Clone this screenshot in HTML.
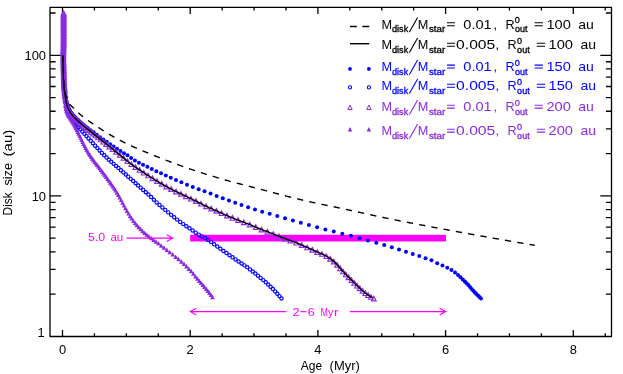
<!DOCTYPE html>
<html><head><meta charset="utf-8"><title>Disk size vs age</title>
<style>html,body{margin:0;padding:0;background:#fff}svg{display:block}svg{will-change:transform;transform:translateZ(0)}</style></head>
<body>
<svg width="623" height="374" viewBox="0 0 623 374" font-family="Liberation Sans, sans-serif">
<rect width="623" height="374" fill="#fff"/>
<g stroke="#000000" stroke-width="1.3" fill="none" stroke-linecap="butt" stroke-linejoin="round">
<rect x="50.0" y="7.4" width="561.5" height="329.1"/>
<path d="M62.50,336.5 v-6.5 M62.50,7.4 v6.5 M94.42,336.5 v-3.2 M94.42,7.4 v3.2 M126.35,336.5 v-3.2 M126.35,7.4 v3.2 M158.28,336.5 v-3.2 M158.28,7.4 v3.2 M190.20,336.5 v-6.5 M190.20,7.4 v6.5 M222.12,336.5 v-3.2 M222.12,7.4 v3.2 M254.05,336.5 v-3.2 M254.05,7.4 v3.2 M285.98,336.5 v-3.2 M285.98,7.4 v3.2 M317.90,336.5 v-6.5 M317.90,7.4 v6.5 M349.82,336.5 v-3.2 M349.82,7.4 v3.2 M381.75,336.5 v-3.2 M381.75,7.4 v3.2 M413.68,336.5 v-3.2 M413.68,7.4 v3.2 M445.60,336.5 v-6.5 M445.60,7.4 v6.5 M477.53,336.5 v-3.2 M477.53,7.4 v3.2 M509.45,336.5 v-3.2 M509.45,7.4 v3.2 M541.38,336.5 v-3.2 M541.38,7.4 v3.2 M573.30,336.5 v-6.5 M573.30,7.4 v6.5 M605.23,336.5 v-3.2 M605.23,7.4 v3.2 M50.0,294.18 h5.6 M611.5,294.18 h-5.6 M50.0,269.42 h5.6 M611.5,269.42 h-5.6 M50.0,251.85 h5.6 M611.5,251.85 h-5.6 M50.0,238.22 h5.6 M611.5,238.22 h-5.6 M50.0,227.09 h5.6 M611.5,227.09 h-5.6 M50.0,217.68 h5.6 M611.5,217.68 h-5.6 M50.0,209.53 h5.6 M611.5,209.53 h-5.6 M50.0,202.33 h5.6 M611.5,202.33 h-5.6 M50.0,153.58 h5.6 M611.5,153.58 h-5.6 M50.0,128.82 h5.6 M611.5,128.82 h-5.6 M50.0,111.25 h5.6 M611.5,111.25 h-5.6 M50.0,97.62 h5.6 M611.5,97.62 h-5.6 M50.0,86.49 h5.6 M611.5,86.49 h-5.6 M50.0,77.08 h5.6 M611.5,77.08 h-5.6 M50.0,68.93 h5.6 M611.5,68.93 h-5.6 M50.0,61.73 h5.6 M611.5,61.73 h-5.6 M50.0,12.98 h5.6 M611.5,12.98 h-5.6 M50.0,195.90 h11.2 M611.5,195.90 h-11.2 M50.0,55.30 h11.2 M611.5,55.30 h-11.2"/>
</g>
<rect x="190.2" y="234.8" width="255.8" height="6.7" fill="#ff00ff"/>
<g fill="none" stroke="#0000ff" stroke-width="1.15"><circle cx="63.10" cy="30.80" r="1.65"/><circle cx="63.11" cy="32.30" r="1.65"/><circle cx="63.11" cy="33.80" r="1.65"/><circle cx="63.12" cy="35.30" r="1.65"/><circle cx="63.13" cy="36.80" r="1.65"/><circle cx="63.14" cy="38.30" r="1.65"/><circle cx="63.14" cy="39.80" r="1.65"/><circle cx="63.15" cy="41.30" r="1.65"/><circle cx="63.16" cy="42.80" r="1.65"/><circle cx="63.17" cy="44.30" r="1.65"/><circle cx="63.18" cy="45.80" r="1.65"/><circle cx="63.19" cy="47.30" r="1.65"/><circle cx="63.21" cy="48.85" r="1.65"/><circle cx="63.22" cy="50.40" r="1.65"/><circle cx="63.23" cy="51.95" r="1.65"/><circle cx="63.24" cy="53.50" r="1.65"/><circle cx="63.26" cy="55.05" r="1.65"/><circle cx="63.27" cy="56.60" r="1.65"/><circle cx="63.28" cy="58.15" r="1.65"/><circle cx="63.30" cy="59.70" r="1.65"/><circle cx="63.31" cy="61.20" r="1.65"/><circle cx="63.32" cy="62.70" r="1.65"/><circle cx="63.34" cy="64.20" r="1.65"/><circle cx="63.35" cy="65.70" r="1.65"/><circle cx="63.36" cy="67.20" r="1.65"/><circle cx="63.37" cy="68.70" r="1.65"/><circle cx="63.39" cy="70.20" r="1.65"/><circle cx="63.40" cy="71.70" r="1.65"/><circle cx="63.42" cy="73.20" r="1.65"/><circle cx="63.44" cy="74.70" r="1.65"/><circle cx="63.46" cy="76.20" r="1.65"/><circle cx="63.48" cy="77.75" r="1.65"/><circle cx="63.50" cy="79.30" r="1.65"/><circle cx="63.53" cy="80.85" r="1.65"/><circle cx="63.56" cy="82.40" r="1.65"/><circle cx="63.60" cy="83.95" r="1.65"/><circle cx="63.65" cy="85.49" r="1.65"/><circle cx="63.74" cy="87.04" r="1.65"/><circle cx="63.85" cy="88.54" r="1.65"/><circle cx="63.98" cy="90.03" r="1.65"/><circle cx="64.13" cy="91.53" r="1.65"/><circle cx="64.28" cy="93.02" r="1.65"/><circle cx="64.44" cy="94.51" r="1.65"/><circle cx="64.61" cy="96.06" r="1.65"/><circle cx="64.76" cy="97.55" r="1.65"/><circle cx="64.93" cy="99.05" r="1.65"/><circle cx="65.47" cy="103.01" r="1.65"/><circle cx="66.05" cy="105.68" r="1.65"/><circle cx="66.67" cy="107.59" r="1.65"/><circle cx="67.33" cy="109.33" r="1.65"/><circle cx="68.04" cy="111.10" r="1.65"/><circle cx="68.79" cy="112.84" r="1.65"/><circle cx="69.59" cy="114.51" r="1.65"/><circle cx="70.46" cy="116.16" r="1.65"/><circle cx="71.36" cy="117.77" r="1.65"/><circle cx="72.33" cy="119.34" r="1.65"/><circle cx="73.36" cy="120.87" r="1.65"/><circle cx="74.49" cy="122.41" r="1.65"/><circle cx="75.67" cy="123.96" r="1.65"/><circle cx="76.99" cy="125.59" r="1.65"/><circle cx="78.53" cy="127.36" r="1.65"/><circle cx="80.32" cy="129.33" r="1.65"/><circle cx="82.33" cy="131.56" r="1.65"/><circle cx="84.37" cy="133.82" r="1.65"/><circle cx="86.46" cy="136.11" r="1.65"/><circle cx="88.59" cy="138.44" r="1.65"/><circle cx="90.74" cy="140.81" r="1.65"/><circle cx="92.92" cy="143.22" r="1.65"/><circle cx="95.13" cy="145.67" r="1.65"/><circle cx="97.36" cy="148.10" r="1.65"/><circle cx="99.62" cy="150.50" r="1.65"/><circle cx="101.93" cy="152.93" r="1.65"/><circle cx="104.24" cy="155.29" r="1.65"/><circle cx="106.57" cy="157.55" r="1.65"/><circle cx="108.93" cy="159.71" r="1.65"/><circle cx="111.29" cy="161.80" r="1.65"/><circle cx="113.67" cy="163.86" r="1.65"/><circle cx="116.08" cy="165.97" r="1.65"/><circle cx="118.48" cy="168.09" r="1.65"/><circle cx="120.92" cy="170.24" r="1.65"/><circle cx="123.35" cy="172.39" r="1.65"/><circle cx="125.79" cy="174.54" r="1.65"/><circle cx="128.23" cy="176.69" r="1.65"/><circle cx="130.71" cy="178.87" r="1.65"/><circle cx="133.18" cy="181.05" r="1.65"/><circle cx="135.65" cy="183.24" r="1.65"/><circle cx="138.16" cy="185.46" r="1.65"/><circle cx="140.67" cy="187.68" r="1.65"/><circle cx="143.21" cy="189.94" r="1.65"/><circle cx="145.80" cy="192.22" r="1.65"/><circle cx="148.45" cy="194.58" r="1.65"/><circle cx="151.12" cy="197.07" r="1.65"/><circle cx="153.87" cy="199.77" r="1.65"/><circle cx="156.66" cy="202.42" r="1.65"/><circle cx="159.49" cy="204.94" r="1.65"/><circle cx="162.38" cy="207.42" r="1.65"/><circle cx="165.27" cy="209.88" r="1.65"/><circle cx="168.21" cy="212.38" r="1.65"/><circle cx="171.16" cy="214.85" r="1.65"/><circle cx="174.16" cy="217.26" r="1.65"/><circle cx="177.15" cy="219.61" r="1.65"/><circle cx="180.18" cy="221.90" r="1.65"/><circle cx="183.26" cy="224.12" r="1.65"/><circle cx="186.38" cy="226.21" r="1.65"/><circle cx="189.48" cy="228.31" r="1.65"/><circle cx="192.60" cy="230.50" r="1.65"/><circle cx="195.72" cy="232.67" r="1.65"/><circle cx="198.83" cy="234.66" r="1.65"/><circle cx="201.93" cy="236.40" r="1.65"/><circle cx="205.00" cy="238.08" r="1.65"/><circle cx="208.09" cy="240.01" r="1.65"/><circle cx="211.18" cy="242.12" r="1.65"/><circle cx="214.23" cy="244.30" r="1.65"/><circle cx="217.30" cy="246.56" r="1.65"/><circle cx="220.37" cy="248.80" r="1.65"/><circle cx="223.44" cy="250.97" r="1.65"/><circle cx="226.47" cy="253.09" r="1.65"/><circle cx="229.50" cy="255.21" r="1.65"/><circle cx="232.53" cy="257.33" r="1.65"/><circle cx="235.58" cy="259.43" r="1.65"/><circle cx="238.59" cy="261.50" r="1.65"/><circle cx="241.54" cy="263.46" r="1.65"/><circle cx="244.42" cy="265.37" r="1.65"/><circle cx="247.25" cy="267.34" r="1.65"/><circle cx="250.02" cy="269.39" r="1.65"/><circle cx="252.72" cy="271.46" r="1.65"/><circle cx="255.39" cy="273.57" r="1.65"/><circle cx="257.99" cy="275.68" r="1.65"/><circle cx="260.66" cy="277.91" r="1.65"/><circle cx="263.27" cy="280.12" r="1.65"/><circle cx="265.77" cy="282.31" r="1.65"/><circle cx="268.23" cy="284.54" r="1.65"/><circle cx="270.59" cy="286.78" r="1.65"/><circle cx="272.90" cy="289.08" r="1.65"/><circle cx="275.13" cy="291.38" r="1.65"/><circle cx="277.32" cy="293.74" r="1.65"/><circle cx="279.43" cy="296.10" r="1.65"/><circle cx="281.50" cy="298.50" r="1.65"/></g>
<g fill="#0000ff"><circle cx="63.10" cy="30.80" r="2.0"/><circle cx="63.10" cy="32.30" r="2.0"/><circle cx="63.10" cy="33.80" r="2.0"/><circle cx="63.11" cy="35.30" r="2.0"/><circle cx="63.12" cy="36.80" r="2.0"/><circle cx="63.13" cy="38.30" r="2.0"/><circle cx="63.14" cy="39.80" r="2.0"/><circle cx="63.15" cy="41.30" r="2.0"/><circle cx="63.16" cy="42.80" r="2.0"/><circle cx="63.17" cy="44.30" r="2.0"/><circle cx="63.19" cy="45.85" r="2.0"/><circle cx="63.21" cy="47.40" r="2.0"/><circle cx="63.22" cy="48.95" r="2.0"/><circle cx="63.24" cy="50.50" r="2.0"/><circle cx="63.26" cy="52.05" r="2.0"/><circle cx="63.28" cy="53.60" r="2.0"/><circle cx="63.30" cy="55.15" r="2.0"/><circle cx="63.32" cy="56.70" r="2.0"/><circle cx="63.34" cy="58.25" r="2.0"/><circle cx="63.37" cy="59.80" r="2.0"/><circle cx="63.40" cy="61.30" r="2.0"/><circle cx="63.43" cy="62.80" r="2.0"/><circle cx="63.46" cy="64.30" r="2.0"/><circle cx="63.50" cy="65.80" r="2.0"/><circle cx="63.53" cy="67.30" r="2.0"/><circle cx="63.57" cy="68.80" r="2.0"/><circle cx="63.61" cy="70.30" r="2.0"/><circle cx="63.64" cy="71.80" r="2.0"/><circle cx="63.67" cy="73.30" r="2.0"/><circle cx="63.71" cy="74.80" r="2.0"/><circle cx="63.74" cy="76.30" r="2.0"/><circle cx="63.78" cy="77.80" r="2.0"/><circle cx="63.82" cy="79.30" r="2.0"/><circle cx="63.87" cy="80.85" r="2.0"/><circle cx="63.93" cy="82.40" r="2.0"/><circle cx="64.00" cy="83.94" r="2.0"/><circle cx="64.10" cy="85.48" r="2.0"/><circle cx="64.24" cy="87.03" r="2.0"/><circle cx="64.41" cy="88.52" r="2.0"/><circle cx="64.62" cy="90.01" r="2.0"/><circle cx="64.84" cy="91.49" r="2.0"/><circle cx="65.37" cy="94.95" r="2.0"/><circle cx="65.95" cy="98.43" r="2.0"/><circle cx="66.56" cy="101.48" r="2.0"/><circle cx="67.22" cy="104.07" r="2.0"/><circle cx="67.92" cy="106.20" r="2.0"/><circle cx="68.67" cy="108.03" r="2.0"/><circle cx="69.46" cy="109.69" r="2.0"/><circle cx="70.30" cy="111.24" r="2.0"/><circle cx="71.19" cy="112.73" r="2.0"/><circle cx="72.17" cy="114.12" r="2.0"/><circle cx="73.21" cy="115.32" r="2.0"/><circle cx="74.31" cy="116.43" r="2.0"/><circle cx="75.49" cy="117.56" r="2.0"/><circle cx="76.77" cy="118.77" r="2.0"/><circle cx="78.19" cy="120.10" r="2.0"/><circle cx="79.74" cy="121.52" r="2.0"/><circle cx="81.47" cy="123.03" r="2.0"/><circle cx="83.43" cy="124.68" r="2.0"/><circle cx="85.56" cy="126.41" r="2.0"/><circle cx="87.97" cy="128.28" r="2.0"/><circle cx="90.65" cy="130.21" r="2.0"/><circle cx="93.62" cy="132.34" r="2.0"/><circle cx="96.82" cy="134.73" r="2.0"/><circle cx="100.08" cy="137.14" r="2.0"/><circle cx="103.37" cy="139.49" r="2.0"/><circle cx="106.73" cy="141.85" r="2.0"/><circle cx="110.12" cy="144.24" r="2.0"/><circle cx="113.54" cy="146.59" r="2.0"/><circle cx="116.98" cy="148.82" r="2.0"/><circle cx="120.46" cy="150.99" r="2.0"/><circle cx="123.96" cy="153.13" r="2.0"/><circle cx="127.48" cy="155.32" r="2.0"/><circle cx="131.11" cy="157.91" r="2.0"/><circle cx="134.92" cy="160.47" r="2.0"/><circle cx="138.92" cy="162.64" r="2.0"/><circle cx="143.07" cy="164.74" r="2.0"/><circle cx="147.38" cy="166.86" r="2.0"/><circle cx="151.79" cy="168.99" r="2.0"/><circle cx="156.35" cy="171.16" r="2.0"/><circle cx="161.02" cy="173.35" r="2.0"/><circle cx="165.81" cy="175.61" r="2.0"/><circle cx="170.77" cy="177.87" r="2.0"/><circle cx="175.97" cy="180.08" r="2.0"/><circle cx="181.38" cy="182.31" r="2.0"/><circle cx="187.00" cy="184.67" r="2.0"/><circle cx="192.75" cy="187.00" r="2.0"/><circle cx="198.62" cy="189.15" r="2.0"/><circle cx="204.54" cy="191.29" r="2.0"/><circle cx="210.56" cy="193.60" r="2.0"/><circle cx="216.63" cy="195.94" r="2.0"/><circle cx="222.76" cy="198.23" r="2.0"/><circle cx="228.96" cy="200.51" r="2.0"/><circle cx="235.21" cy="202.77" r="2.0"/><circle cx="241.52" cy="205.03" r="2.0"/><circle cx="248.12" cy="207.37" r="2.0"/><circle cx="254.99" cy="209.51" r="2.0"/><circle cx="262.19" cy="211.63" r="2.0"/><circle cx="269.67" cy="213.81" r="2.0"/><circle cx="277.32" cy="216.01" r="2.0"/><circle cx="285.06" cy="218.21" r="2.0"/><circle cx="292.90" cy="220.44" r="2.0"/><circle cx="300.82" cy="222.74" r="2.0"/><circle cx="308.89" cy="225.07" r="2.0"/><circle cx="317.09" cy="227.32" r="2.0"/><circle cx="325.38" cy="229.40" r="2.0"/><circle cx="333.78" cy="231.47" r="2.0"/><circle cx="342.29" cy="233.72" r="2.0"/><circle cx="350.88" cy="235.82" r="2.0"/><circle cx="359.46" cy="238.22" r="2.0"/><circle cx="367.96" cy="240.46" r="2.0"/><circle cx="376.30" cy="242.78" r="2.0"/><circle cx="384.23" cy="245.06" r="2.0"/><circle cx="391.78" cy="247.21" r="2.0"/><circle cx="399.03" cy="249.47" r="2.0"/><circle cx="406.01" cy="251.77" r="2.0"/><circle cx="412.77" cy="253.96" r="2.0"/><circle cx="419.28" cy="256.09" r="2.0"/><circle cx="425.53" cy="258.35" r="2.0"/><circle cx="431.51" cy="260.34" r="2.0"/><circle cx="437.22" cy="263.13" r="2.0"/><circle cx="442.49" cy="265.42" r="2.0"/><circle cx="447.24" cy="267.66" r="2.0"/><circle cx="451.43" cy="269.99" r="2.0"/><circle cx="455.02" cy="272.54" r="2.0"/><circle cx="458.02" cy="274.88" r="2.0"/><circle cx="460.52" cy="277.24" r="2.0"/><circle cx="462.78" cy="279.58" r="2.0"/><circle cx="464.83" cy="281.57" r="2.0"/><circle cx="466.60" cy="283.27" r="2.0"/><circle cx="468.30" cy="285.01" r="2.0"/><circle cx="469.99" cy="286.98" r="2.0"/><circle cx="471.65" cy="289.04" r="2.0"/><circle cx="473.25" cy="290.87" r="2.0"/><circle cx="474.83" cy="292.49" r="2.0"/><circle cx="476.41" cy="294.03" r="2.0"/><circle cx="477.95" cy="295.55" r="2.0"/><circle cx="479.47" cy="297.07" r="2.0"/><circle cx="481.00" cy="298.60" r="2.0"/></g>
<path fill="#8a2be2" d="M60.50,15.55 L62.80,11.05 L65.10,15.55Z M60.50,17.05 L62.80,12.55 L65.10,17.05Z M60.51,18.55 L62.81,14.05 L65.11,18.55Z M60.51,20.05 L62.81,15.55 L65.11,20.05Z M60.52,21.55 L62.82,17.05 L65.12,21.55Z M60.52,23.05 L62.82,18.55 L65.12,23.05Z M60.53,24.55 L62.83,20.05 L65.13,24.55Z M60.53,26.05 L62.83,21.55 L65.13,26.05Z M60.54,27.55 L62.84,23.05 L65.14,27.55Z M60.54,29.05 L62.84,24.55 L65.14,29.05Z M60.55,30.55 L62.85,26.05 L65.15,30.55Z M60.55,32.10 L62.85,27.60 L65.15,32.10Z M60.56,33.65 L62.86,29.15 L65.16,33.65Z M60.57,35.20 L62.87,30.70 L65.17,35.20Z M60.57,36.75 L62.87,32.25 L65.17,36.75Z M60.58,38.30 L62.88,33.80 L65.18,38.30Z M60.59,39.85 L62.89,35.35 L65.19,39.85Z M60.60,41.40 L62.90,36.90 L65.20,41.40Z M60.60,42.95 L62.90,38.45 L65.20,42.95Z M60.61,44.45 L62.91,39.95 L65.21,44.45Z M60.62,45.95 L62.92,41.45 L65.22,45.95Z M60.62,47.45 L62.92,42.95 L65.22,47.45Z M60.63,48.95 L62.93,44.45 L65.23,48.95Z M60.64,50.45 L62.94,45.95 L65.24,50.45Z M60.65,51.95 L62.95,47.45 L65.25,51.95Z M60.66,53.45 L62.96,48.95 L65.26,53.45Z M60.66,54.95 L62.96,50.45 L65.26,54.95Z M60.67,56.45 L62.97,51.95 L65.27,56.45Z M60.68,57.95 L62.98,53.45 L65.28,57.95Z M60.69,59.45 L62.99,54.95 L65.29,59.45Z M60.70,60.95 L63.00,56.45 L65.30,60.95Z M60.71,62.45 L63.01,57.95 L65.31,62.45Z M60.72,64.00 L63.02,59.50 L65.32,64.00Z M60.74,65.55 L63.04,61.05 L65.34,65.55Z M60.75,67.10 L63.05,62.60 L65.35,67.10Z M60.76,68.65 L63.06,64.15 L65.36,68.65Z M60.78,70.20 L63.08,65.70 L65.38,70.20Z M60.79,71.75 L63.09,67.25 L65.39,71.75Z M60.81,73.30 L63.11,68.80 L65.41,73.30Z M60.83,74.80 L63.13,70.30 L65.43,74.80Z M60.85,76.30 L63.15,71.80 L65.45,76.30Z M60.88,77.80 L63.18,73.30 L65.48,77.80Z M60.90,79.30 L63.20,74.80 L65.50,79.30Z M60.93,80.80 L63.23,76.30 L65.53,80.80Z M60.97,82.30 L63.27,77.80 L65.57,82.30Z M61.01,83.81 L63.31,79.31 L65.61,83.81Z M61.05,85.31 L63.35,80.81 L65.65,85.31Z M61.10,86.85 L63.40,82.35 L65.70,86.85Z M61.15,88.40 L63.45,83.90 L65.75,88.40Z M61.20,89.95 L63.50,85.45 L65.80,89.95Z M61.27,91.50 L63.57,87.00 L65.87,91.50Z M61.34,93.04 L63.64,88.54 L65.94,93.04Z M61.47,94.58 L63.77,90.08 L66.07,94.58Z M61.64,96.12 L63.94,91.62 L66.24,96.12Z M61.82,97.61 L64.12,93.11 L66.42,97.61Z M62.03,99.10 L64.33,94.60 L66.63,99.10Z M62.23,100.59 L64.53,96.09 L66.83,100.59Z M62.42,102.08 L64.72,97.58 L67.02,102.08Z M62.59,103.57 L64.89,99.07 L67.19,103.57Z M63.06,107.97 L65.36,103.47 L67.66,107.97Z M63.57,110.95 L65.87,106.45 L68.17,110.95Z M64.09,112.73 L66.39,108.23 L68.69,112.73Z M64.64,114.19 L66.94,109.69 L69.24,114.19Z M65.22,115.57 L67.52,111.07 L69.82,115.57Z M65.82,116.82 L68.12,112.32 L70.42,116.82Z M66.49,117.98 L68.79,113.48 L71.09,117.98Z M67.19,119.08 L69.49,114.58 L71.79,119.08Z M67.92,120.17 L70.22,115.67 L72.52,120.17Z M68.65,121.26 L70.95,116.76 L73.25,121.26Z M69.39,122.40 L71.69,117.90 L73.99,122.40Z M70.17,123.73 L72.47,119.23 L74.77,123.73Z M71.00,125.22 L73.30,120.72 L75.60,125.22Z M71.84,126.81 L74.14,122.31 L76.44,126.81Z M72.72,128.49 L75.02,123.99 L77.32,128.49Z M73.64,130.27 L75.94,125.77 L78.24,130.27Z M74.57,132.10 L76.87,127.60 L79.17,132.10Z M75.50,133.93 L77.80,129.43 L80.10,133.93Z M76.45,135.86 L78.75,131.36 L81.05,135.86Z M77.41,137.84 L79.71,133.34 L82.01,137.84Z M78.39,139.86 L80.69,135.36 L82.99,139.86Z M79.37,141.89 L81.67,137.39 L83.97,141.89Z M80.37,143.90 L82.67,139.40 L84.97,143.90Z M81.38,145.91 L83.68,141.41 L85.98,145.91Z M82.41,147.92 L84.71,143.42 L87.01,147.92Z M83.44,149.92 L85.74,145.42 L88.04,149.92Z M84.49,151.91 L86.79,147.41 L89.09,151.91Z M85.56,153.83 L87.86,149.33 L90.16,153.83Z M86.63,155.63 L88.93,151.13 L91.23,155.63Z M87.74,157.36 L90.04,152.86 L92.34,157.36Z M88.86,159.02 L91.16,154.52 L93.46,159.02Z M90.00,160.66 L92.30,156.16 L94.60,160.66Z M91.16,162.29 L93.46,157.79 L95.76,162.29Z M92.36,163.89 L94.66,159.39 L96.96,163.89Z M93.58,165.47 L95.88,160.97 L98.18,165.47Z M94.82,167.04 L97.12,162.54 L99.42,167.04Z M96.06,168.61 L98.36,164.11 L100.66,168.61Z M97.33,170.22 L99.63,165.72 L101.93,170.22Z M98.64,171.93 L100.94,167.43 L103.24,171.93Z M99.96,173.69 L102.26,169.19 L104.56,173.69Z M101.27,175.46 L103.57,170.96 L105.87,175.46Z M102.61,177.26 L104.91,172.76 L107.21,177.26Z M103.94,179.08 L106.24,174.58 L108.54,179.08Z M105.26,180.90 L107.56,176.40 L109.86,180.90Z M106.60,182.77 L108.90,178.27 L111.20,182.77Z M107.94,184.64 L110.24,180.14 L112.54,184.64Z M109.28,186.51 L111.58,182.01 L113.88,186.51Z M110.64,188.44 L112.94,183.94 L115.24,188.44Z M111.99,190.42 L114.29,185.92 L116.59,190.42Z M113.35,192.51 L115.65,188.01 L117.95,192.51Z M114.70,194.73 L117.00,190.23 L119.30,194.73Z M116.06,197.06 L118.36,192.56 L120.66,197.06Z M117.43,199.51 L119.73,195.01 L122.03,199.51Z M118.82,202.06 L121.12,197.56 L123.42,202.06Z M120.25,204.81 L122.55,200.31 L124.85,204.81Z M121.69,207.55 L123.99,203.05 L126.29,207.55Z M123.17,210.22 L125.47,205.72 L127.77,210.22Z M124.69,212.94 L126.99,208.44 L129.29,212.94Z M126.22,215.59 L128.52,211.09 L130.82,215.59Z M127.79,218.15 L130.09,213.65 L132.39,218.15Z M129.41,220.59 L131.71,216.09 L134.01,220.59Z M131.10,222.93 L133.40,218.43 L135.70,222.93Z M132.83,225.15 L135.13,220.65 L137.43,225.15Z M134.60,227.27 L136.90,222.77 L139.20,227.27Z M136.44,229.32 L138.74,224.82 L141.04,229.32Z M138.34,231.29 L140.64,226.79 L142.94,231.29Z M140.28,233.16 L142.58,228.66 L144.88,233.16Z M142.30,234.96 L144.60,230.46 L146.90,234.96Z M144.41,236.74 L146.71,232.24 L149.01,236.74Z M146.59,238.50 L148.89,234.00 L151.19,238.50Z M148.87,240.21 L151.17,235.71 L153.47,240.21Z M151.22,241.90 L153.52,237.40 L155.82,241.90Z M153.69,243.70 L155.99,239.20 L158.29,243.70Z M156.25,245.62 L158.55,241.12 L160.85,245.62Z M158.92,247.65 L161.22,243.15 L163.52,247.65Z M161.69,249.78 L163.99,245.28 L166.29,249.78Z M164.53,252.00 L166.83,247.50 L169.13,252.00Z M167.45,254.27 L169.75,249.77 L172.05,254.27Z M170.46,256.61 L172.76,252.11 L175.06,256.61Z M173.41,258.94 L175.71,254.44 L178.01,258.94Z M176.27,261.28 L178.57,256.78 L180.87,261.28Z M179.03,263.66 L181.33,259.16 L183.63,263.66Z M181.68,266.08 L183.98,261.58 L186.28,266.08Z M184.20,268.51 L186.50,264.01 L188.80,268.51Z M186.60,270.94 L188.90,266.44 L191.20,270.94Z M188.85,273.35 L191.15,268.85 L193.45,273.35Z M191.02,275.83 L193.32,271.33 L195.62,275.83Z M193.09,278.40 L195.39,273.90 L197.69,278.40Z M195.05,280.85 L197.35,276.35 L199.65,280.85Z M196.92,283.06 L199.22,278.56 L201.52,283.06Z M198.73,285.12 L201.03,280.62 L203.33,285.12Z M200.49,287.10 L202.79,282.60 L205.09,287.10Z M202.20,289.05 L204.50,284.55 L206.80,289.05Z M203.87,291.04 L206.17,286.54 L208.47,291.04Z M205.51,293.05 L207.81,288.55 L210.11,293.05Z M207.11,295.09 L209.41,290.59 L211.71,295.09Z M208.67,297.11 L210.97,292.61 L213.27,297.11Z M210.20,299.15 L212.50,294.65 L214.80,299.15Z"/>
<path fill="none" stroke="#8a2be2" stroke-width="1.15" stroke-linejoin="miter" d="M61.30,15.60 L63.70,11.00 L66.10,15.60Z M61.30,17.10 L63.70,12.50 L66.10,17.10Z M61.30,18.60 L63.70,14.00 L66.10,18.60Z M61.30,20.10 L63.70,15.50 L66.10,20.10Z M61.30,21.60 L63.70,17.00 L66.10,21.60Z M61.30,23.10 L63.70,18.50 L66.10,23.10Z M61.30,24.60 L63.70,20.00 L66.10,24.60Z M61.30,26.10 L63.70,21.50 L66.10,26.10Z M61.30,27.60 L63.70,23.00 L66.10,27.60Z M61.30,29.10 L63.70,24.50 L66.10,29.10Z M61.30,30.65 L63.70,26.05 L66.10,30.65Z M61.30,32.20 L63.70,27.60 L66.10,32.20Z M61.30,33.75 L63.70,29.15 L66.10,33.75Z M61.30,35.30 L63.70,30.70 L66.10,35.30Z M61.30,36.85 L63.70,32.25 L66.10,36.85Z M61.30,38.40 L63.70,33.80 L66.10,38.40Z M61.30,39.95 L63.70,35.35 L66.10,39.95Z M61.30,41.50 L63.70,36.90 L66.10,41.50Z M61.30,43.05 L63.70,38.45 L66.10,43.05Z M61.28,44.60 L63.68,40.00 L66.08,44.60Z M61.24,46.10 L63.64,41.50 L66.04,46.10Z M61.19,47.60 L63.59,43.00 L65.99,47.60Z M61.14,49.10 L63.54,44.50 L65.94,49.10Z M61.08,50.60 L63.48,46.00 L65.88,50.60Z M61.02,52.10 L63.42,47.50 L65.82,52.10Z M60.97,53.60 L63.37,49.00 L65.77,53.60Z M60.93,55.15 L63.33,50.55 L65.73,55.15Z M60.91,56.70 L63.31,52.10 L65.71,56.70Z M60.90,58.24 L63.30,53.64 L65.70,58.24Z M60.91,59.79 L63.31,55.19 L65.71,59.79Z M60.94,61.34 L63.34,56.74 L65.74,61.34Z M60.98,62.89 L63.38,58.29 L65.78,62.89Z M61.03,64.39 L63.43,59.79 L65.83,64.39Z M61.08,65.89 L63.48,61.29 L65.88,65.89Z M61.13,67.39 L63.53,62.79 L65.93,67.39Z M61.19,68.89 L63.59,64.29 L65.99,68.89Z M61.24,70.39 L63.64,65.79 L66.04,70.39Z M61.29,71.89 L63.69,67.29 L66.09,71.89Z M61.33,73.39 L63.73,68.79 L66.13,73.39Z M61.37,74.89 L63.77,70.29 L66.17,74.89Z M61.40,76.39 L63.80,71.79 L66.20,76.39Z M61.43,77.89 L63.83,73.29 L66.23,77.89Z M61.47,79.39 L63.87,74.79 L66.27,79.39Z M61.51,80.89 L63.91,76.29 L66.31,80.89Z M61.55,82.44 L63.95,77.84 L66.35,82.44Z M61.60,83.99 L64.00,79.39 L66.40,83.99Z M61.67,85.54 L64.07,80.94 L66.47,85.54Z M61.74,87.08 L64.14,82.48 L66.54,87.08Z M61.87,88.62 L64.27,84.02 L66.67,88.62Z M62.04,90.16 L64.44,85.56 L66.84,90.16Z M62.23,91.65 L64.63,87.05 L67.03,91.65Z M62.43,93.14 L64.83,88.54 L67.23,93.14Z M62.96,96.91 L65.36,92.31 L67.76,96.91Z M63.52,101.67 L65.92,97.07 L68.32,101.67Z M64.11,105.66 L66.51,101.06 L68.91,105.66Z M64.75,108.23 L67.15,103.63 L69.55,108.23Z M65.42,110.02 L67.82,105.42 L70.22,110.02Z M66.15,111.59 L68.55,106.99 L70.95,111.59Z M66.92,113.04 L69.32,108.44 L71.72,113.04Z M67.74,114.43 L70.14,109.83 L72.54,114.43Z M68.61,115.81 L71.01,111.21 L73.41,115.81Z M69.53,117.07 L71.93,112.47 L74.33,117.07Z M70.51,118.20 L72.91,113.60 L75.31,118.20Z M71.57,119.30 L73.97,114.70 L76.37,119.30Z M72.69,120.41 L75.09,115.81 L77.49,120.41Z M73.87,121.57 L76.27,116.97 L78.67,121.57Z M75.12,122.78 L77.52,118.18 L79.92,122.78Z M76.48,124.03 L78.88,119.43 L81.28,124.03Z M77.90,125.30 L80.30,120.70 L82.70,125.30Z M79.41,126.61 L81.81,122.01 L84.21,126.61Z M81.02,127.97 L83.42,123.37 L85.82,127.97Z M82.74,129.43 L85.14,124.83 L87.54,129.43Z M84.54,130.93 L86.94,126.33 L89.34,130.93Z M86.47,132.52 L88.87,127.92 L91.27,132.52Z M88.54,134.17 L90.94,129.57 L93.34,134.17Z M90.74,135.91 L93.14,131.31 L95.54,135.91Z M93.05,137.74 L95.45,133.14 L97.85,137.74Z M95.51,139.71 L97.91,135.11 L100.31,139.71Z M98.14,141.79 L100.54,137.19 L102.94,141.79Z M100.92,143.99 L103.32,139.39 L105.72,143.99Z M103.86,146.33 L106.26,141.73 L108.66,146.33Z M106.98,148.83 L109.38,144.23 L111.78,148.83Z M110.26,151.46 L112.66,146.86 L115.06,151.46Z M113.72,154.25 L116.12,149.65 L118.52,154.25Z M117.34,157.17 L119.74,152.57 L122.14,157.17Z M121.15,160.25 L123.55,155.65 L125.95,160.25Z M125.05,163.47 L127.45,158.87 L129.85,163.47Z M128.99,166.54 L131.39,161.94 L133.79,166.54Z M133.02,169.41 L135.42,164.81 L137.82,169.41Z M137.11,172.20 L139.51,167.60 L141.91,172.20Z M141.31,175.00 L143.71,170.40 L146.11,175.00Z M145.64,177.79 L148.04,173.19 L150.44,177.79Z M150.09,180.58 L152.49,175.98 L154.89,180.58Z M154.64,183.40 L157.04,178.80 L159.44,183.40Z M159.28,186.16 L161.68,181.56 L164.08,186.16Z M163.99,188.80 L166.39,184.20 L168.79,188.80Z M168.80,191.37 L171.20,186.77 L173.60,191.37Z M173.66,193.82 L176.06,189.22 L178.46,193.82Z M178.59,196.16 L180.99,191.56 L183.39,196.16Z M183.54,198.55 L185.94,193.95 L188.34,198.55Z M188.52,200.99 L190.92,196.39 L193.32,200.99Z M193.56,203.43 L195.96,198.83 L198.36,203.43Z M198.60,206.00 L201.00,201.40 L203.40,206.00Z M203.69,208.55 L206.09,203.95 L208.49,208.55Z M208.83,210.90 L211.23,206.30 L213.63,210.90Z M214.00,213.19 L216.40,208.59 L218.80,213.19Z M219.19,215.54 L221.59,210.94 L223.99,215.54Z M224.53,217.93 L226.93,213.33 L229.33,217.93Z M230.03,220.20 L232.43,215.60 L234.83,220.20Z M235.66,222.43 L238.06,217.83 L240.46,222.43Z M241.44,224.65 L243.84,220.05 L246.24,224.65Z M247.37,226.93 L249.77,222.33 L252.17,226.93Z M253.28,229.40 L255.68,224.80 L258.08,229.40Z M259.18,231.87 L261.58,227.27 L263.98,231.87Z M265.03,234.06 L267.43,229.46 L269.83,234.06Z M270.83,236.24 L273.23,231.64 L275.63,236.24Z M276.62,238.60 L279.02,234.00 L281.42,238.60Z M282.36,240.82 L284.76,236.22 L287.16,240.82Z M288.07,242.83 L290.47,238.23 L292.87,242.83Z M293.78,244.97 L296.18,240.37 L298.58,244.97Z M299.38,247.37 L301.78,242.77 L304.18,247.37Z M304.78,249.75 L307.18,245.15 L309.58,249.75Z M309.98,252.09 L312.38,247.49 L314.78,252.09Z M314.91,254.30 L317.31,249.70 L319.71,254.30Z M319.57,256.29 L321.97,251.69 L324.37,256.29Z M323.92,258.49 L326.32,253.89 L328.72,258.49Z M327.88,261.06 L330.28,256.46 L332.68,261.06Z M331.46,263.86 L333.86,259.26 L336.26,263.86Z M334.72,267.16 L337.12,262.56 L339.52,267.16Z M337.76,270.56 L340.16,265.96 L342.56,270.56Z M340.59,273.72 L342.99,269.12 L345.39,273.72Z M343.42,276.76 L345.82,272.16 L348.22,276.76Z M346.22,279.62 L348.62,275.02 L351.02,279.62Z M349.01,282.41 L351.41,277.81 L353.81,282.41Z M351.80,285.20 L354.20,280.60 L356.60,285.20Z M354.61,287.97 L357.01,283.37 L359.41,287.97Z M357.40,290.62 L359.80,286.02 L362.20,290.62Z M360.19,293.21 L362.59,288.61 L364.99,293.21Z M362.96,295.49 L365.36,290.89 L367.76,295.49Z M365.74,297.45 L368.14,292.85 L370.54,297.45Z M368.54,299.22 L370.94,294.62 L373.34,299.22Z M371.40,300.90 L373.80,296.30 L376.20,300.90Z"/>
<path d="M62.80,55.50 L62.82,56.30 L62.84,57.10 L62.87,57.90 L62.89,58.70 L62.91,59.50 L62.93,60.30 L62.95,61.10 L62.97,61.90 L63.00,62.70 L63.02,63.50 L63.04,64.30 L63.06,65.10 L63.09,65.90 L63.11,66.70 L63.13,67.50 L63.15,68.30 L63.17,69.09 L63.20,69.89 L63.22,70.69 L63.24,71.49 L63.26,72.29 L63.28,73.10 L63.29,73.90 L63.31,74.70 L63.33,75.50 L63.35,76.30 L63.37,77.10 L63.39,77.90 L63.41,78.70 L63.43,79.50 L63.45,80.30 L63.48,81.10 L63.51,81.90 L63.54,82.69 L63.58,83.49 L63.62,84.29 L63.67,85.08 L63.74,85.88 L63.82,86.67 L63.91,87.47 L64.02,88.26 L64.13,89.05 L64.25,89.85 L64.37,90.64 L64.50,91.43 L64.63,92.22 L64.76,93.01 L64.88,93.81 L65.00,94.60 L65.12,95.39 L65.24,96.18 L65.36,96.98 L65.47,97.78 L65.59,98.58 L65.72,99.38 L65.85,100.17 L65.98,100.96 L66.13,101.75 L66.29,102.53 L66.46,103.30 L66.64,104.06 L66.84,104.82 L67.07,105.58 L67.33,106.33 L67.62,107.09 L67.93,107.84 L68.26,108.58 L68.61,109.32 L68.98,110.05 L69.36,110.77 L69.76,111.47 L70.17,112.16 L70.58,112.84 L71.00,113.49 L71.44,114.13 L71.92,114.76 L72.43,115.37 L72.97,115.97 L73.53,116.55 L74.10,117.13 L74.67,117.70 L75.25,118.27 L75.83,118.83 L76.40,119.39 L76.97,119.95 L77.55,120.50 L78.13,121.05 L78.72,121.59 L79.31,122.12 L79.91,122.66 L80.51,123.18 L81.12,123.71 L81.72,124.23 L82.33,124.76 L82.94,125.27 L83.56,125.79 L84.17,126.31 L84.78,126.82 L85.39,127.34 L86.00,127.86 L86.62,128.37 L87.23,128.88 L87.85,129.39 L88.47,129.89 L89.09,130.39 L89.72,130.89 L90.34,131.39 L90.97,131.89 L91.59,132.39 L92.22,132.89 L92.85,133.38 L93.48,133.88 L94.10,134.38 L94.73,134.87 L95.36,135.37 L95.99,135.87 L96.61,136.37 L97.24,136.87 L97.86,137.37 L98.49,137.86 L99.11,138.36 L99.74,138.86 L100.37,139.36 L101.00,139.85 L101.62,140.35 L102.25,140.85 L102.88,141.34 L103.50,141.84 L104.13,142.34 L104.76,142.83 L105.38,143.33 L106.01,143.83 L106.63,144.33 L107.26,144.83 L107.88,145.33 L108.51,145.83 L109.13,146.33 L109.76,146.83 L110.38,147.33 L111.01,147.83 L111.63,148.33 L112.25,148.83 L112.88,149.33 L113.50,149.83 L114.12,150.34 L114.75,150.84 L115.37,151.34 L115.99,151.84 L116.61,152.34 L117.24,152.85 L117.86,153.35 L118.48,153.85 L119.10,154.35 L119.73,154.86 L120.35,155.36 L120.97,155.86 L121.59,156.37 L122.21,156.87 L122.83,157.37 L123.46,157.88 L124.08,158.38 L124.70,158.89 L125.31,159.40 L125.93,159.91 L126.55,160.42 L127.16,160.93 L127.78,161.44 L128.40,161.95 L129.03,162.44 L129.66,162.94 L130.29,163.42 L130.93,163.90 L131.57,164.37 L132.22,164.85 L132.87,165.31 L133.52,165.78 L134.17,166.24 L134.83,166.70 L135.48,167.16 L136.14,167.61 L136.80,168.07 L137.46,168.52 L138.13,168.97 L138.79,169.41 L139.45,169.86 L140.12,170.31 L140.78,170.75 L141.45,171.20 L142.11,171.64 L142.78,172.08 L143.45,172.52 L144.12,172.96 L144.79,173.40 L145.46,173.83 L146.13,174.26 L146.81,174.70 L147.48,175.13 L148.16,175.56 L148.83,175.99 L149.51,176.41 L150.19,176.84 L150.86,177.26 L151.54,177.69 L152.22,178.11 L152.90,178.54 L153.58,178.96 L154.26,179.38 L154.94,179.80 L155.62,180.23 L156.30,180.64 L156.98,181.06 L157.67,181.48 L158.35,181.89 L159.04,182.30 L159.72,182.71 L160.41,183.12 L161.10,183.52 L161.79,183.92 L162.49,184.32 L163.18,184.72 L163.88,185.11 L164.58,185.50 L165.28,185.89 L165.98,186.28 L166.68,186.66 L167.38,187.05 L168.09,187.43 L168.79,187.80 L169.50,188.18 L170.20,188.55 L170.91,188.93 L171.62,189.29 L172.33,189.66 L173.05,190.03 L173.76,190.39 L174.48,190.74 L175.19,191.09 L175.91,191.44 L176.63,191.79 L177.35,192.14 L178.08,192.48 L178.80,192.82 L179.52,193.16 L180.25,193.51 L180.97,193.85 L181.69,194.19 L182.42,194.54 L183.14,194.88 L183.86,195.23 L184.58,195.58 L185.30,195.93 L186.01,196.29 L186.73,196.64 L187.45,196.99 L188.17,197.35 L188.88,197.70 L189.60,198.05 L190.32,198.40 L191.04,198.75 L191.76,199.09 L192.49,199.44 L193.21,199.79 L193.93,200.14 L194.65,200.48 L195.37,200.84 L196.08,201.19 L196.80,201.55 L197.51,201.91 L198.23,202.27 L198.94,202.64 L199.65,203.00 L200.36,203.37 L201.07,203.74 L201.78,204.10 L202.50,204.47 L203.21,204.83 L203.92,205.19 L204.64,205.55 L205.36,205.90 L206.08,206.25 L206.80,206.59 L207.52,206.93 L208.25,207.26 L208.98,207.60 L209.71,207.92 L210.44,208.25 L211.17,208.58 L211.90,208.90 L212.63,209.22 L213.36,209.55 L214.10,209.87 L214.83,210.19 L215.56,210.51 L216.29,210.84 L217.02,211.17 L217.75,211.49 L218.48,211.82 L219.21,212.15 L219.94,212.49 L220.67,212.82 L221.39,213.15 L222.12,213.48 L222.85,213.81 L223.58,214.14 L224.31,214.47 L225.04,214.80 L225.77,215.12 L226.50,215.44 L227.24,215.76 L227.97,216.07 L228.71,216.38 L229.45,216.69 L230.19,216.99 L230.93,217.30 L231.67,217.60 L232.41,217.90 L233.16,218.19 L233.90,218.49 L234.64,218.78 L235.39,219.08 L236.13,219.37 L236.88,219.66 L237.62,219.95 L238.37,220.25 L239.11,220.54 L239.86,220.83 L240.60,221.12 L241.35,221.40 L242.10,221.69 L242.85,221.97 L243.59,222.26 L244.34,222.54 L245.09,222.82 L245.84,223.11 L246.59,223.39 L247.33,223.68 L248.08,223.97 L248.82,224.26 L249.57,224.55 L250.31,224.84 L251.05,225.14 L251.79,225.45 L252.53,225.75 L253.27,226.07 L254.01,226.38 L254.74,226.69 L255.48,227.01 L256.21,227.33 L256.95,227.64 L257.68,227.96 L258.42,228.27 L259.15,228.58 L259.89,228.89 L260.63,229.19 L261.38,229.49 L262.12,229.78 L262.87,230.07 L263.61,230.35 L264.36,230.63 L265.11,230.91 L265.86,231.19 L266.62,231.46 L267.37,231.74 L268.12,232.01 L268.87,232.29 L269.62,232.56 L270.37,232.84 L271.12,233.12 L271.87,233.41 L272.61,233.70 L273.36,233.99 L274.10,234.29 L274.84,234.59 L275.58,234.89 L276.32,235.20 L277.06,235.50 L277.80,235.80 L278.54,236.11 L279.28,236.41 L280.03,236.71 L280.77,237.01 L281.51,237.30 L282.26,237.59 L283.00,237.88 L283.75,238.16 L284.50,238.43 L285.26,238.70 L286.01,238.97 L286.77,239.24 L287.52,239.50 L288.28,239.77 L289.03,240.03 L289.79,240.29 L290.55,240.56 L291.30,240.82 L292.05,241.09 L292.80,241.37 L293.55,241.65 L294.30,241.93 L295.05,242.22 L295.79,242.51 L296.53,242.81 L297.27,243.12 L298.01,243.43 L298.74,243.74 L299.48,244.06 L300.21,244.38 L300.94,244.70 L301.68,245.02 L302.41,245.34 L303.14,245.67 L303.87,245.99 L304.60,246.32 L305.34,246.64 L306.07,246.96 L306.80,247.29 L307.53,247.61 L308.26,247.94 L308.99,248.26 L309.72,248.59 L310.45,248.92 L311.18,249.25 L311.91,249.58 L312.64,249.91 L313.37,250.24 L314.10,250.56 L314.83,250.89 L315.56,251.22 L316.29,251.55 L317.02,251.87 L317.75,252.19 L318.49,252.50 L319.23,252.82 L319.97,253.13 L320.71,253.44 L321.45,253.76 L322.18,254.08 L322.91,254.41 L323.63,254.75 L324.34,255.11 L325.04,255.48 L325.74,255.86 L326.43,256.26 L327.12,256.67 L327.80,257.10 L328.48,257.53 L329.15,257.98 L329.81,258.43 L330.47,258.89 L331.11,259.36 L331.75,259.84 L332.38,260.33 L333.01,260.83 L333.62,261.35 L334.22,261.88 L334.81,262.43 L335.38,262.98 L335.94,263.55 L336.48,264.14 L337.01,264.74 L337.54,265.34 L338.07,265.94 L338.61,266.53 L339.15,267.13 L339.68,267.72 L340.21,268.32 L340.75,268.92 L341.28,269.51 L341.81,270.11 L342.35,270.71 L342.88,271.30 L343.42,271.89 L343.96,272.48 L344.50,273.07 L345.05,273.65 L345.60,274.23 L346.15,274.81 L346.71,275.38 L347.27,275.96 L347.83,276.53 L348.39,277.09 L348.96,277.66 L349.52,278.23 L350.09,278.79 L350.66,279.36 L351.22,279.92 L351.79,280.49 L352.35,281.06 L352.92,281.62 L353.48,282.19 L354.05,282.75 L354.62,283.32 L355.18,283.88 L355.75,284.45 L356.32,285.01 L356.90,285.57 L357.47,286.12 L358.05,286.67 L358.63,287.22 L359.22,287.77 L359.80,288.32 L360.38,288.87 L360.97,289.43 L361.55,289.97 L362.15,290.51 L362.74,291.05 L363.35,291.57 L363.96,292.09 L364.57,292.59 L365.20,293.08 L365.84,293.55 L366.48,294.02 L367.13,294.49 L367.78,294.94 L368.45,295.39 L369.12,295.83 L369.80,296.26 L370.48,296.68 L371.17,297.09 L371.87,297.50 L372.40,297.80" fill="none" stroke="#000000" stroke-width="1.4"/>
<path d="M62.80,55.50 L62.82,56.30 L62.85,57.10 L62.87,57.90 L62.90,58.70 L62.93,59.50 L62.95,60.30 L62.98,61.10 L63.01,61.90 L63.03,62.70 L63.06,63.50 L63.09,64.30 L63.12,65.09 L63.15,65.89 L63.18,66.69 L63.21,67.49 L63.24,68.29 L63.27,69.09 L63.30,69.89 L63.33,70.69 L63.35,71.49 L63.38,72.29 L63.41,73.09 L63.44,73.89 L63.46,74.69 L63.49,75.49 L63.52,76.29 L63.55,77.09 L63.58,77.89 L63.61,78.69 L63.65,79.49 L63.69,80.29 L63.73,81.09 L63.77,81.89 L63.82,82.69 L63.87,83.48 L63.92,84.28 L63.98,85.07 L64.06,85.87 L64.14,86.67 L64.24,87.47 L64.35,88.27 L64.46,89.07 L64.58,89.87 L64.72,90.66 L64.86,91.45 L65.00,92.23 L65.16,93.01 L65.32,93.78 L65.50,94.55 L65.69,95.32 L65.92,96.10 L66.16,96.87 L66.43,97.65 L66.72,98.42 L67.02,99.18 L67.34,99.93 L67.68,100.67 L68.04,101.40 L68.41,102.11 L68.79,102.79 L69.19,103.46 L69.60,104.10 L70.07,104.70 L70.61,105.29 L71.18,105.86 L71.78,106.41 L72.39,106.96 L72.99,107.51 L73.57,108.07 L74.14,108.64 L74.70,109.21 L75.27,109.77 L75.84,110.34 L76.41,110.90 L76.98,111.46 L77.56,112.01 L78.14,112.56 L78.72,113.11 L79.31,113.65 L79.90,114.19 L80.50,114.73 L81.10,115.26 L81.71,115.78 L82.32,116.29 L82.94,116.79 L83.57,117.28 L84.20,117.77 L84.84,118.25 L85.49,118.72 L86.14,119.19 L86.80,119.65 L87.45,120.11 L88.11,120.57 L88.77,121.02 L89.43,121.47 L90.09,121.91 L90.75,122.36 L91.42,122.81 L92.08,123.26 L92.74,123.71 L93.41,124.15 L94.07,124.60 L94.74,125.04 L95.41,125.49 L96.08,125.93 L96.75,126.37 L97.42,126.81 L98.09,127.25 L98.76,127.69 L99.43,128.13 L100.11,128.56 L100.78,129.00 L101.46,129.43 L102.13,129.86 L102.81,130.29 L103.49,130.72 L104.17,131.15 L104.85,131.57 L105.53,131.99 L106.22,132.42 L106.90,132.84 L107.58,133.25 L108.27,133.67 L108.95,134.08 L109.64,134.49 L110.33,134.90 L111.02,135.31 L111.71,135.72 L112.40,136.12 L113.09,136.52 L113.79,136.91 L114.48,137.31 L115.18,137.70 L115.88,138.09 L116.57,138.48 L117.27,138.86 L117.97,139.24 L118.67,139.62 L119.38,140.00 L120.08,140.37 L120.78,140.74 L121.49,141.11 L122.20,141.47 L122.91,141.83 L123.62,142.19 L124.33,142.54 L125.05,142.90 L125.77,143.25 L126.48,143.60 L127.20,143.94 L127.93,144.29 L128.65,144.63 L129.37,144.97 L130.10,145.31 L130.83,145.64 L131.56,145.98 L132.29,146.31 L133.02,146.64 L133.75,146.97 L134.48,147.29 L135.21,147.62 L135.95,147.94 L136.68,148.26 L137.42,148.58 L138.15,148.90 L138.89,149.22 L139.63,149.53 L140.37,149.85 L141.10,150.16 L141.84,150.47 L142.58,150.79 L143.32,151.10 L144.06,151.41 L144.80,151.71 L145.54,152.02 L146.28,152.33 L147.01,152.63 L147.75,152.94 L148.49,153.24 L149.23,153.55 L149.97,153.85 L150.71,154.15 L151.45,154.45 L152.19,154.76 L152.93,155.06 L153.67,155.35 L154.41,155.65 L155.16,155.95 L155.90,156.25 L156.64,156.54 L157.38,156.84 L158.13,157.13 L158.87,157.43 L159.62,157.72 L160.36,158.01 L161.11,158.30 L161.85,158.59 L162.60,158.88 L163.35,159.17 L164.09,159.46 L164.84,159.75 L165.59,160.04 L166.34,160.32 L167.08,160.61 L167.83,160.89 L168.58,161.17 L169.33,161.46 L170.08,161.74 L170.83,162.02 L171.58,162.30 L172.33,162.58 L173.08,162.86 L173.83,163.14 L174.58,163.41 L175.34,163.69 L176.09,163.97 L176.84,164.24 L177.59,164.51 L178.34,164.79 L179.10,165.06 L179.85,165.33 L180.60,165.60 L181.36,165.87 L182.11,166.14 L182.87,166.41 L183.62,166.68 L184.38,166.94 L185.13,167.21 L185.89,167.47 L186.64,167.74 L187.40,168.00 L188.15,168.26 L188.91,168.52 L189.66,168.78 L190.42,169.04 L191.18,169.30 L191.93,169.56 L192.69,169.82 L193.45,170.08 L194.20,170.33 L194.96,170.59 L195.72,170.84 L196.48,171.09 L197.23,171.35 L197.99,171.60 L198.75,171.85 L199.51,172.10 L200.27,172.35 L201.03,172.59 L201.79,172.84 L202.56,173.09 L203.32,173.33 L204.08,173.57 L204.84,173.82 L205.61,174.06 L206.37,174.30 L207.13,174.54 L207.90,174.78 L208.66,175.02 L209.42,175.25 L210.19,175.49 L210.95,175.73 L211.72,175.96 L212.49,176.19 L213.25,176.43 L214.02,176.66 L214.78,176.89 L215.55,177.12 L216.32,177.35 L217.08,177.58 L217.85,177.81 L218.62,178.03 L219.39,178.26 L220.15,178.48 L220.92,178.71 L221.69,178.93 L222.46,179.16 L223.23,179.38 L224.00,179.60 L224.76,179.82 L225.53,180.04 L226.30,180.26 L227.07,180.47 L227.84,180.69 L228.61,180.90 L229.38,181.11 L230.16,181.33 L230.93,181.54 L231.70,181.74 L232.47,181.95 L233.24,182.16 L234.02,182.37 L234.79,182.57 L235.56,182.78 L236.34,182.98 L237.11,183.18 L237.89,183.39 L238.66,183.59 L239.43,183.79 L240.21,183.99 L240.98,184.19 L241.76,184.39 L242.53,184.59 L243.31,184.79 L244.08,184.99 L244.86,185.19 L245.63,185.39 L246.41,185.60 L247.18,185.80 L247.96,186.00 L248.73,186.20 L249.50,186.40 L250.28,186.60 L251.05,186.81 L251.83,187.01 L252.60,187.21 L253.37,187.42 L254.15,187.62 L254.92,187.82 L255.69,188.03 L256.47,188.23 L257.24,188.44 L258.02,188.64 L258.79,188.84 L259.56,189.05 L260.34,189.25 L261.11,189.46 L261.88,189.66 L262.66,189.87 L263.43,190.07 L264.20,190.28 L264.98,190.48 L265.75,190.69 L266.52,190.89 L267.30,191.10 L268.07,191.30 L268.85,191.51 L269.62,191.71 L270.39,191.92 L271.17,192.12 L271.94,192.33 L272.71,192.53 L273.49,192.74 L274.26,192.94 L275.04,193.14 L275.81,193.35 L276.58,193.55 L277.36,193.75 L278.13,193.96 L278.91,194.16 L279.68,194.36 L280.45,194.56 L281.23,194.76 L282.00,194.96 L282.78,195.16 L283.55,195.36 L284.33,195.56 L285.10,195.76 L285.88,195.96 L286.65,196.16 L287.43,196.36 L288.20,196.56 L288.98,196.75 L289.75,196.95 L290.53,197.15 L291.31,197.34 L292.08,197.54 L292.86,197.73 L293.63,197.92 L294.41,198.12 L295.19,198.31 L295.96,198.50 L296.74,198.69 L297.52,198.88 L298.29,199.07 L299.07,199.26 L299.85,199.45 L300.62,199.64 L301.40,199.82 L302.18,200.01 L302.96,200.19 L303.74,200.38 L304.51,200.56 L305.29,200.74 L306.07,200.93 L306.85,201.11 L307.63,201.29 L308.41,201.46 L309.19,201.64 L309.97,201.82 L310.75,201.99 L311.53,202.17 L312.31,202.34 L313.09,202.51 L313.87,202.68 L314.65,202.85 L315.43,203.02 L316.22,203.19 L317.00,203.35 L317.78,203.52 L318.57,203.68 L319.35,203.85 L320.13,204.01 L320.91,204.17 L321.70,204.33 L322.48,204.50 L323.27,204.66 L324.05,204.82 L324.83,204.98 L325.62,205.14 L326.40,205.30 L327.19,205.46 L327.97,205.62 L328.75,205.78 L329.54,205.94 L330.32,206.10 L331.11,206.26 L331.89,206.42 L332.67,206.58 L333.46,206.74 L334.24,206.90 L335.03,207.06 L335.81,207.23 L336.59,207.39 L337.38,207.55 L338.16,207.72 L338.94,207.88 L339.72,208.05 L340.51,208.21 L341.29,208.38 L342.07,208.55 L342.85,208.72 L343.64,208.88 L344.42,209.05 L345.20,209.22 L345.98,209.39 L346.76,209.56 L347.54,209.73 L348.33,209.90 L349.11,210.07 L349.89,210.24 L350.67,210.41 L351.45,210.58 L352.23,210.75 L353.02,210.92 L353.80,211.10 L354.58,211.27 L355.36,211.44 L356.14,211.61 L356.92,211.78 L357.71,211.95 L358.49,212.12 L359.27,212.30 L360.05,212.47 L360.83,212.64 L361.61,212.81 L362.39,212.98 L363.18,213.15 L363.96,213.33 L364.74,213.50 L365.52,213.67 L366.30,213.84 L367.08,214.01 L367.86,214.18 L368.65,214.35 L369.43,214.52 L370.21,214.69 L370.99,214.86 L371.77,215.03 L372.56,215.20 L373.34,215.37 L374.12,215.54 L374.90,215.71 L375.68,215.88 L376.47,216.04 L377.25,216.21 L378.03,216.38 L378.81,216.54 L379.60,216.71 L380.38,216.88 L381.16,217.04 L381.94,217.20 L382.73,217.37 L383.51,217.53 L384.29,217.70 L385.08,217.86 L385.86,218.02 L386.64,218.18 L387.43,218.34 L388.21,218.50 L388.99,218.66 L389.78,218.82 L390.56,218.98 L391.34,219.14 L392.13,219.30 L392.91,219.45 L393.70,219.61 L394.48,219.77 L395.27,219.93 L396.05,220.08 L396.84,220.24 L397.62,220.40 L398.40,220.55 L399.19,220.71 L399.97,220.86 L400.76,221.02 L401.54,221.17 L402.33,221.33 L403.11,221.48 L403.90,221.64 L404.68,221.79 L405.47,221.94 L406.25,222.10 L407.04,222.25 L407.82,222.40 L408.61,222.55 L409.40,222.71 L410.18,222.86 L410.97,223.01 L411.75,223.16 L412.54,223.31 L413.32,223.46 L414.11,223.62 L414.89,223.77 L415.68,223.92 L416.47,224.07 L417.25,224.22 L418.04,224.37 L418.82,224.52 L419.61,224.67 L420.40,224.82 L421.18,224.96 L421.97,225.11 L422.75,225.26 L423.54,225.41 L424.33,225.56 L425.11,225.71 L425.90,225.86 L426.69,226.00 L427.47,226.15 L428.26,226.30 L429.04,226.45 L429.83,226.59 L430.62,226.74 L431.40,226.89 L432.19,227.04 L432.98,227.18 L433.76,227.33 L434.55,227.48 L435.34,227.62 L436.12,227.77 L436.91,227.92 L437.69,228.06 L438.48,228.21 L439.27,228.35 L440.05,228.50 L440.84,228.65 L441.63,228.79 L442.41,228.94 L443.20,229.08 L443.99,229.23 L444.77,229.37 L445.56,229.52 L446.35,229.66 L447.13,229.81 L447.92,229.96 L448.71,230.10 L449.49,230.25 L450.28,230.39 L451.07,230.54 L451.85,230.68 L452.64,230.82 L453.43,230.97 L454.21,231.11 L455.00,231.26 L455.79,231.40 L456.57,231.55 L457.36,231.69 L458.15,231.83 L458.94,231.98 L459.72,232.12 L460.51,232.27 L461.30,232.41 L462.08,232.55 L462.87,232.70 L463.66,232.84 L464.44,232.98 L465.23,233.13 L466.02,233.27 L466.81,233.41 L467.59,233.55 L468.38,233.70 L469.17,233.84 L469.95,233.98 L470.74,234.12 L471.53,234.27 L472.32,234.41 L473.10,234.55 L473.89,234.69 L474.68,234.84 L475.46,234.98 L476.25,235.12 L477.04,235.26 L477.83,235.40 L478.61,235.54 L479.40,235.68 L480.19,235.83 L480.98,235.97 L481.76,236.11 L482.55,236.25 L483.34,236.39 L484.13,236.53 L484.91,236.67 L485.70,236.81 L486.49,236.95 L487.28,237.09 L488.06,237.23 L488.85,237.37 L489.64,237.51 L490.43,237.65 L491.22,237.79 L492.00,237.93 L492.79,238.07 L493.58,238.21 L494.37,238.35 L495.15,238.49 L495.94,238.62 L496.73,238.76 L497.52,238.90 L498.31,239.04 L499.09,239.18 L499.88,239.32 L500.67,239.45 L501.46,239.59 L502.25,239.73 L503.03,239.87 L503.82,240.01 L504.61,240.14 L505.40,240.28 L506.19,240.42 L506.98,240.55 L507.76,240.69 L508.55,240.83 L509.34,240.96 L510.13,241.10 L510.92,241.24 L511.71,241.37 L512.49,241.51 L513.28,241.65 L514.07,241.78 L514.86,241.92 L515.65,242.05 L516.44,242.19 L517.22,242.32 L518.01,242.46 L518.80,242.59 L519.59,242.73 L520.38,242.86 L521.17,243.00 L521.96,243.13 L522.75,243.27 L523.53,243.40 L524.32,243.53 L525.11,243.67 L525.90,243.80 L526.69,243.94 L527.48,244.07 L528.27,244.20 L529.06,244.34 L529.84,244.47 L530.63,244.60 L531.42,244.73 L532.21,244.87 L533.00,245.00 L533.79,245.13 L534.58,245.26 L534.80,245.30" fill="none" stroke="#000000" stroke-width="1.4" stroke-dasharray="6.3 6.17" stroke-dashoffset="0.4"/>
<g stroke="#ff00ff" stroke-width="1.1" fill="none">
<path d="M126.5,238.1 H172.6 M166.7,234.7 L172.8,238.1 L166.7,241.5"/>
<path d="M190.4,311.6 H286 M196.3,308.2 L190.2,311.6 L196.3,315"/>
<path d="M350,311.6 H445.6 M439.6,308.2 L445.8,311.6 L439.6,315"/>
</g>
<g font-size="12.9" fill="#000000">
<text x="62.5" y="354.4" text-anchor="middle">0</text>
<text x="190.2" y="354.4" text-anchor="middle">2</text>
<text x="317.9" y="354.4" text-anchor="middle">4</text>
<text x="445.6" y="354.4" text-anchor="middle">6</text>
<text x="573.3" y="354.4" text-anchor="middle">8</text>
<text x="44.6" y="337.2" text-anchor="end">1</text>
<text x="46" y="200.7" text-anchor="end">10</text>
<text x="46" y="60.1" text-anchor="end">100</text>
<text x="300.8" y="369.6" textLength="21.4" lengthAdjust="spacingAndGlyphs">Age</text>
<text x="329.6" y="369.6" textLength="30.2" lengthAdjust="spacingAndGlyphs">(Myr)</text>
<g transform="translate(12.1,215.4) rotate(-90)">
<text x="0" y="0" textLength="23.2" lengthAdjust="spacingAndGlyphs">Disk</text>
<text x="29.8" y="0" textLength="22.6" lengthAdjust="spacingAndGlyphs">size</text>
<text x="59.0" y="0" textLength="26.8" lengthAdjust="spacingAndGlyphs">(au)</text>
</g>
</g>
<g font-size="10.6" fill="#ff00ff">
<text x="88" y="241.3" textLength="17.2" lengthAdjust="spacingAndGlyphs">5.0</text>
<text x="110.4" y="241.3" textLength="12.8" lengthAdjust="spacingAndGlyphs">au</text>
<text x="292.5" y="316.3" textLength="7.2" lengthAdjust="spacingAndGlyphs">2</text>
<text x="307.8" y="316.3" textLength="7.0" lengthAdjust="spacingAndGlyphs">6</text>
<text x="320.5" y="316.3" textLength="7.4" lengthAdjust="spacingAndGlyphs">M</text>
<text x="327.9" y="316.3" textLength="5.4" lengthAdjust="spacingAndGlyphs">y</text>
<text x="333.9" y="316.3" textLength="4.6" lengthAdjust="spacingAndGlyphs">r</text>
<path d="M300.3,311.7 h6.1" stroke="#ff00ff" stroke-width="1.1"/>
</g>
<path d="M350,26.5 H369.2" stroke="#000000" stroke-width="1.4" stroke-dasharray="6.8 5.6" fill="none"/>
<g fill="#000000" stroke="none" font-size="12.7">
<text x="381.6" y="28.9">M</text>
<g stroke="#000000" stroke-width="0.3" font-size="8.3">
<text x="392" y="32.3" textLength="16.2" lengthAdjust="spacingAndGlyphs">disk</text>
<text x="429" y="32.3" textLength="16.2" lengthAdjust="spacingAndGlyphs">star</text>
<text x="514.8" y="23.2" font-size="9.100000000000001">0</text>
<text x="514.9" y="32.3" textLength="12.6" lengthAdjust="spacingAndGlyphs">out</text>
</g>
<text x="417.8" y="28.9">M</text>
<text x="463.3" y="28.9" textLength="28.4" lengthAdjust="spacingAndGlyphs">0.01</text>
<text x="493.6" y="28.9">,</text>
<text x="505.4" y="28.9">R</text>
<text x="546.4" y="28.9" textLength="24.4" lengthAdjust="spacingAndGlyphs">100</text>
<text x="578.2" y="28.9" textLength="15.6" lengthAdjust="spacingAndGlyphs">au</text>
</g>
<g stroke="#000000" stroke-width="1.1" fill="none">
<path d="M409.4,32.1 L417.6,17.6"/>
<path d="M447,22.8 h7.9 M447,25.7 h7.9"/>
<path d="M534.6,22.8 h8.3 M534.6,25.7 h8.3"/>
</g>
<path d="M350,43.7 H369.2" stroke="#000000" stroke-width="1.4" fill="none"/>
<g fill="#000000" stroke="none" font-size="12.7">
<text x="381.6" y="49.4">M</text>
<g stroke="#000000" stroke-width="0.3" font-size="8.3">
<text x="392" y="52.8" textLength="16.2" lengthAdjust="spacingAndGlyphs">disk</text>
<text x="429" y="52.8" textLength="16.2" lengthAdjust="spacingAndGlyphs">star</text>
<text x="517.0" y="43.7" font-size="9.100000000000001">0</text>
<text x="517.1" y="52.8" textLength="12.6" lengthAdjust="spacingAndGlyphs">out</text>
</g>
<text x="417.8" y="49.4">M</text>
<text x="456.1" y="49.4" textLength="39.2" lengthAdjust="spacingAndGlyphs">0.005</text>
<text x="495.4" y="49.4">,</text>
<text x="507.6" y="49.4">R</text>
<text x="548.6" y="49.4" textLength="24.4" lengthAdjust="spacingAndGlyphs">100</text>
<text x="580.4" y="49.4" textLength="15.6" lengthAdjust="spacingAndGlyphs">au</text>
</g>
<g stroke="#000000" stroke-width="1.1" fill="none">
<path d="M409.4,52.6 L417.6,38.1"/>
<path d="M447,43.3 h7.9 M447,46.2 h7.9"/>
<path d="M536.8,43.3 h8.3 M536.8,46.2 h8.3"/>
</g>
<g fill="#0000ff"><circle cx="350" cy="68.9" r="1.9"/><circle cx="368.9" cy="68.9" r="1.9"/></g>
<g fill="#0000ff" stroke="none" font-size="12.7">
<text x="381.6" y="71.2">M</text>
<g stroke="#0000ff" stroke-width="0.3" font-size="8.3">
<text x="392" y="74.6" textLength="16.2" lengthAdjust="spacingAndGlyphs">disk</text>
<text x="429" y="74.6" textLength="16.2" lengthAdjust="spacingAndGlyphs">star</text>
<text x="514.8" y="65.5" font-size="9.100000000000001">0</text>
<text x="514.9" y="74.6" textLength="12.6" lengthAdjust="spacingAndGlyphs">out</text>
</g>
<text x="417.8" y="71.2">M</text>
<text x="463.3" y="71.2" textLength="28.4" lengthAdjust="spacingAndGlyphs">0.01</text>
<text x="493.6" y="71.2">,</text>
<text x="505.4" y="71.2">R</text>
<text x="546.4" y="71.2" textLength="24.4" lengthAdjust="spacingAndGlyphs">150</text>
<text x="578.2" y="71.2" textLength="15.6" lengthAdjust="spacingAndGlyphs">au</text>
</g>
<g stroke="#0000ff" stroke-width="1.1" fill="none">
<path d="M409.4,74.4 L417.6,59.9"/>
<path d="M447,65.1 h7.9 M447,68.0 h7.9"/>
<path d="M534.6,65.1 h8.3 M534.6,68.0 h8.3"/>
</g>
<g fill="none" stroke="#0000ff" stroke-width="1.1"><circle cx="350" cy="87.4" r="1.6"/><circle cx="368.9" cy="87.4" r="1.6"/></g>
<g fill="#0000ff" stroke="none" font-size="12.7">
<text x="381.6" y="90.4">M</text>
<g stroke="#0000ff" stroke-width="0.3" font-size="8.3">
<text x="392" y="93.8" textLength="16.2" lengthAdjust="spacingAndGlyphs">disk</text>
<text x="429" y="93.8" textLength="16.2" lengthAdjust="spacingAndGlyphs">star</text>
<text x="517.0" y="84.7" font-size="9.100000000000001">0</text>
<text x="517.1" y="93.8" textLength="12.6" lengthAdjust="spacingAndGlyphs">out</text>
</g>
<text x="417.8" y="90.4">M</text>
<text x="456.1" y="90.4" textLength="39.2" lengthAdjust="spacingAndGlyphs">0.005</text>
<text x="495.4" y="90.4">,</text>
<text x="507.6" y="90.4">R</text>
<text x="548.6" y="90.4" textLength="24.4" lengthAdjust="spacingAndGlyphs">150</text>
<text x="580.4" y="90.4" textLength="15.6" lengthAdjust="spacingAndGlyphs">au</text>
</g>
<g stroke="#0000ff" stroke-width="1.1" fill="none">
<path d="M409.4,93.6 L417.6,79.1"/>
<path d="M447,84.3 h7.9 M447,87.2 h7.9"/>
<path d="M536.8,84.3 h8.3 M536.8,87.2 h8.3"/>
</g>
<path fill="none" stroke="#8a2be2" stroke-width="1" d="M347.80,109.50 L350.00,105.10 L352.20,109.50Z M366.70,109.50 L368.90,105.10 L371.10,109.50Z"/>
<g fill="#8a2be2" stroke="none" font-size="12.7">
<text x="381.6" y="111.3">M</text>
<g stroke="#8a2be2" stroke-width="0.3" font-size="8.3">
<text x="392" y="114.7" textLength="16.2" lengthAdjust="spacingAndGlyphs">disk</text>
<text x="429" y="114.7" textLength="16.2" lengthAdjust="spacingAndGlyphs">star</text>
<text x="514.8" y="105.6" font-size="9.100000000000001">0</text>
<text x="514.9" y="114.7" textLength="12.6" lengthAdjust="spacingAndGlyphs">out</text>
</g>
<text x="417.8" y="111.3">M</text>
<text x="463.3" y="111.3" textLength="28.4" lengthAdjust="spacingAndGlyphs">0.01</text>
<text x="493.6" y="111.3">,</text>
<text x="505.4" y="111.3">R</text>
<text x="546.4" y="111.3" textLength="24.4" lengthAdjust="spacingAndGlyphs">200</text>
<text x="578.2" y="111.3" textLength="15.6" lengthAdjust="spacingAndGlyphs">au</text>
</g>
<g stroke="#8a2be2" stroke-width="1.1" fill="none">
<path d="M409.4,114.5 L417.6,100.0"/>
<path d="M447,105.2 h7.9 M447,108.1 h7.9"/>
<path d="M534.6,105.2 h8.3 M534.6,108.1 h8.3"/>
</g>
<path fill="#8a2be2" d="M347.80,131.40 L350.00,127.00 L352.20,131.40Z M366.70,131.40 L368.90,127.00 L371.10,131.40Z"/>
<g fill="#8a2be2" stroke="none" font-size="12.7">
<text x="381.6" y="135.3">M</text>
<g stroke="#8a2be2" stroke-width="0.3" font-size="8.3">
<text x="392" y="138.7" textLength="16.2" lengthAdjust="spacingAndGlyphs">disk</text>
<text x="429" y="138.7" textLength="16.2" lengthAdjust="spacingAndGlyphs">star</text>
<text x="517.0" y="129.6" font-size="9.100000000000001">0</text>
<text x="517.1" y="138.7" textLength="12.6" lengthAdjust="spacingAndGlyphs">out</text>
</g>
<text x="417.8" y="135.3">M</text>
<text x="456.1" y="135.3" textLength="39.2" lengthAdjust="spacingAndGlyphs">0.005</text>
<text x="495.4" y="135.3">,</text>
<text x="507.6" y="135.3">R</text>
<text x="548.6" y="135.3" textLength="24.4" lengthAdjust="spacingAndGlyphs">200</text>
<text x="580.4" y="135.3" textLength="15.6" lengthAdjust="spacingAndGlyphs">au</text>
</g>
<g stroke="#8a2be2" stroke-width="1.1" fill="none">
<path d="M409.4,138.5 L417.6,124.0"/>
<path d="M447,129.2 h7.9 M447,132.1 h7.9"/>
<path d="M536.8,129.2 h8.3 M536.8,132.1 h8.3"/>
</g>
</svg>
</body></html>
